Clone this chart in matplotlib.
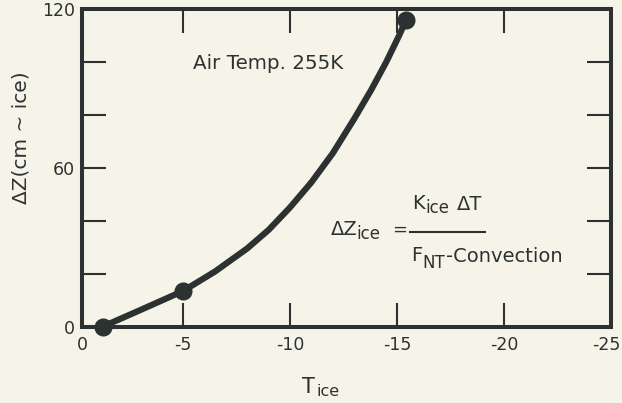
import matplotlib
matplotlib.use("Agg")
import matplotlib.pyplot as plt
from matplotlib.lines import Line2D
from matplotlib.transforms import ScaledTranslation

# curve (T_ice in deg C, dZ in cm of ice)
t_curve = [-1.26, -3.0, -5.0, -6.5, -8.0, -9.0, -10.0, -11.0, -12.0,
           -13.0, -13.8, -14.5, -15.1, -15.42]
dz_curve = [0.0, 6.2, 13.4, 20.8, 29.5, 36.5, 45.0, 54.5, 65.5,
            78.5, 89.5, 100.0, 110.0, 115.8]

# the three computed points
t_pts = [-1.26, -5.0, -15.42]
dz_pts = [0.0, 13.4, 115.8]

x_ticks = [-0.28, -5, -10, -15, -20, -25]
x_labels = ["0", "-5", "-10", "-15", "-20", "-25"]
y_ticks = [0, 20, 40, 60, 80, 100, 120]
y_labels = ["0", "", "", "60", "", "", "120"]

W, H = 622, 403
bg = "#f6f4e8"
ink = "#2c3232"

fig = plt.figure(figsize=(W / 100, H / 100), dpi=100, facecolor=bg)
ax = fig.add_axes([82 / W, 1 - 326.5 / H, (611 - 82) / W, (326.5 - 9) / H])
ax.set_facecolor(bg)

ax.plot(t_curve, dz_curve, color=ink, lw=4.5, solid_capstyle="round",
        solid_joinstyle="round", zorder=3)
ax.plot(t_pts, dz_pts, "o", color=ink, markersize=12, zorder=4, clip_on=False)

ax.set_xlim(-0.28, -25)
ax.set_ylim(0, 120)
ax.set_xticks(x_ticks, x_labels)
ax.set_yticks(y_ticks, y_labels)
ax.tick_params(direction="in", length=17, width=1.5, color=ink,
               top=True, right=True, labelsize=12.5, labelcolor=ink)
ax.tick_params(axis="x", pad=7)
ax.tick_params(axis="y", pad=5)
for sp in ax.spines.values():
    sp.set_linewidth(2.9)
    sp.set_color(ink)

# last x label sits right at the frame edge, nudge it in a bit
last = ax.get_xticklabels()[-1]
last.set_transform(last.get_transform() + ScaledTranslation(-5 / 100, 0, fig.dpi_scale_trans))


def px_text(x, y, s, size, **kw):
    # place text by pixel position (origin top-left)
    fig.text(x / W, 1 - y / H, s, fontsize=size, color=ink,
             ha=kw.pop("ha", "left"), va=kw.pop("va", "baseline"), **kw)


# axis labels
px_text(21, 137.5, "\u0394Z(cm ~ ice)", 14.5, rotation=90, ha="center", va="center")
px_text(302, 393, "T", 15)
px_text(317, 396, "ice", 11.5)

# annotation
px_text(193, 69, "Air Temp. 255K", 14.3)

# formula
px_text(331, 235, "\u0394Z", 14)
px_text(356, 239, "ice", 12)
px_text(392, 235, "=", 13)
fig.add_artist(Line2D([410 / W, 485 / W], [1 - 232 / H, 1 - 232 / H],
                      color=ink, lw=1.5, transform=fig.transFigure))
px_text(412, 209, "K", 14)
px_text(425, 213, "ice", 12)
px_text(457, 210, "\u0394T", 14)
px_text(411, 261, "F", 14)
px_text(422, 268, "NT", 12)
px_text(446, 262, "-Convection", 14)

fig.savefig("out.png", dpi=100, facecolor=bg)
